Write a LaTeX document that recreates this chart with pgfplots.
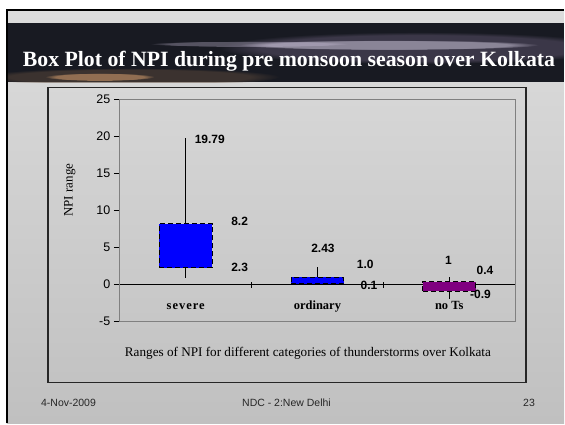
\documentclass[border=0pt]{standalone}
\usepackage{fontspec}
\setmainfont{Liberation Serif}
\newfontfamily\arial{Liberation Sans}
\usepackage{pgfplots}
\pgfplotsset{compat=1.18}
\usetikzlibrary{fadings}
\definecolor{slidetop}{HTML}{DCDCDC}
\definecolor{slidebot}{HTML}{C0C0C0}
\definecolor{barbg}{HTML}{181A22}
\definecolor{nots}{HTML}{800080}
\definecolor{haze}{RGB}{95,85,110}
\definecolor{brownhaze}{RGB}{95,75,60}
\definecolor{streak}{RGB}{235,228,248}
\definecolor{streakb}{RGB}{200,190,215}
\definecolor{sunset}{RGB}{250,185,125}
\tikzset{
  lab/.style={anchor=base west, inner sep=0pt, font=\arial\bfseries\fontsize{12bp}{14bp}\selectfont},
  cat/.style={anchor=base, inner sep=0pt, font=\bfseries\fontsize{12.5bp}{14bp}\selectfont},
  boxst/.style={draw=black, line width=0.9bp, dash pattern=on 5bp off 3bp},
  glow/.style={path fading=circle with fuzzy edge 20 percent},
}
\begin{document}
\begin{tikzpicture}[x=1bp,y=1bp]
% slide
\fill[white] (0,0) rectangle (565,424);
\shade[top color=slidetop, bottom color=slidebot] (7,0) rectangle (565,414);
\draw[line width=2bp, black] (7,0) -- (7,414) -- (565,414);
% title bar
\begin{scope}
  \clip (8,341.7) rectangle (565,401);
  \fill[barbg] (8,341.7) rectangle (565,401);
  \fill[glow, haze, fill opacity=0.5] (420,376) ellipse [x radius=200, y radius=16];
  \fill[glow, brownhaze, fill opacity=0.5] (130,347) ellipse [x radius=150, y radius=9];
  \fill[glow, streak, fill opacity=0.45] (390,379) ellipse [x radius=150, y radius=5];
  \fill[glow, streakb, fill opacity=0.35] (250,380) ellipse [x radius=100, y radius=3];
  \fill[glow, sunset, fill opacity=0.45] (100,347) ellipse [x radius=55, y radius=4];
\end{scope}
\node[anchor=base, inner sep=0pt, text=white, font=\bfseries\fontsize{21.8bp}{24bp}\selectfont] at (289.5,357) {Box Plot of NPI during pre monsoon season over Kolkata};
% chart frame
\draw[line width=1.2bp, black!85] (48,41) rectangle (527,336);
\begin{axis}[
  at={(120bp,101.7bp)}, anchor=south west, scale only axis,
  width=396bp, height=223bp,
  xmin=0, xmax=3, ymin=-5, ymax=25,
  axis x line=middle, axis y line=left,
  axis line style={-, black, line width=0.8bp},
  xtick={1,2,3}, xticklabels={},
  ytick={-5,0,5,10,15,20,25},
  xtick align=center, ytick align=outside,
  major tick length=6bp,
  tick style={black, line width=0.8bp},
  yticklabel style={font=\arial\fontsize{12.5bp}{14bp}\selectfont},
  /pgf/number format/assume math mode=true,
  clip=false,
]
\draw[gray, line width=0.8bp] (rel axis cs:0,0) rectangle (rel axis cs:1,1);
% severe
\addplot[black, line width=0.8bp] coordinates {(0.5,0.95) (0.5,19.79)};
\addplot[boxst, fill=blue] coordinates {(0.3,2.3) (0.7,2.3) (0.7,8.2) (0.3,8.2)} -- cycle;
% ordinary
\addplot[black, line width=0.8bp] coordinates {(1.5,0.1) (1.5,2.43)};
\addplot[boxst, fill=blue] coordinates {(1.3,0.1) (1.7,0.1) (1.7,1.0) (1.3,1.0)} -- cycle;
% no Ts
\addplot[black, line width=0.8bp] coordinates {(2.5,-1.9) (2.5,1)};
\addplot[boxst, fill=nots] coordinates {(2.3,-0.9) (2.7,-0.9) (2.7,0.4) (2.3,0.4)} -- cycle;
% value labels
\node[lab] at (axis cs:0.568,19.0) {19.79};
\node[lab] at (axis cs:0.845,8.02) {8.2};
\node[lab] at (axis cs:0.845,1.75) {2.3};
\node[lab] at (axis cs:1.452,4.30) {2.43};
\node[lab] at (axis cs:1.798,2.2) {1.0};
\node[lab] at (axis cs:1.826,-0.71) {0.1};
\node[lab] at (axis cs:2.467,2.74) {1};
\node[lab] at (axis cs:2.707,1.30) {0.4};
\node[lab] at (axis cs:2.657,-1.92) {-0.9};
% category labels
\node[cat] at (axis cs:0.5,-3.4) {\addfontfeature{LetterSpace=8}severe};
\node[cat] at (axis cs:1.5,-3.4) {ordinary};
\node[cat] at (axis cs:2.5,-3.4) {no Ts};
\end{axis}
\node[rotate=90, font=\fontsize{13bp}{15bp}\selectfont] at (70,233.5) {NPI range};
\node[anchor=base, inner sep=0pt, font=\fontsize{13.2bp}{15bp}\selectfont] at (308.5,66.5) {Ranges of NPI for different categories of thunderstorms over Kolkata};
% footer
\begin{scope}[every node/.style={inner sep=0pt, text=black!85, font=\arial\fontsize{10.5bp}{12bp}\selectfont}]
\node[anchor=base west] at (41,17) {4-Nov-2009};
\node[anchor=base] at (287,17) {NDC - 2:New Delhi};
\node[anchor=base] at (530,17) {23};
\end{scope}
\end{tikzpicture}
\end{document}
